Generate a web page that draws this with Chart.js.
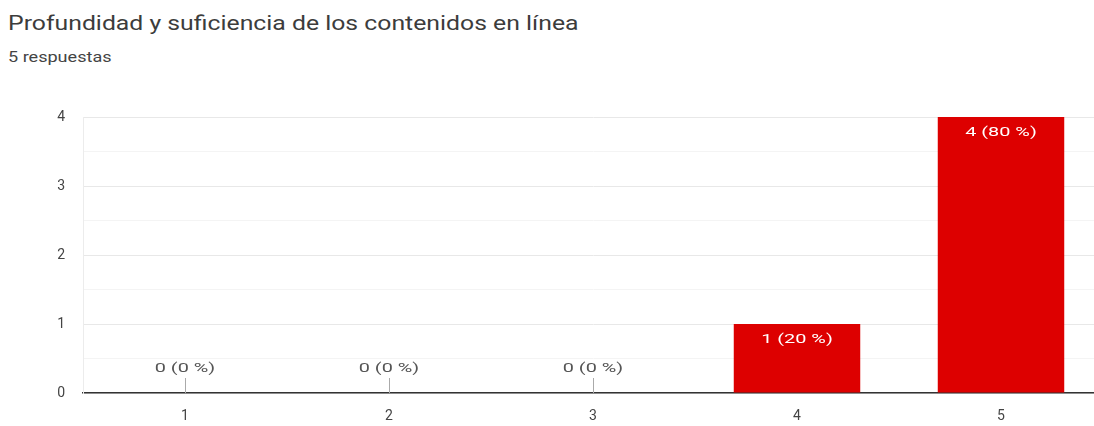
<!DOCTYPE html>
<html>
<head>
<meta charset="utf-8">
<script src="https://cdn.jsdelivr.net/npm/chart.js@4"></script>
<style>
  html, body { margin: 0; padding: 0; background: #fff; overflow: hidden; }
  body { width: 1094px; height: 426px; position: relative; font-family: Roboto, Arial, sans-serif; }
  #title { position: absolute; left: 8px; top: 11px; font-size: 21px; color: #3c3c3c; white-space: nowrap;
           transform: scaleX(1.18); transform-origin: left top; }
  #sub { position: absolute; left: 8px; top: 49px; font-size: 14px; color: #444; white-space: nowrap;
         transform: scaleX(1.29); transform-origin: left top; }
  #wrap { position: absolute; left: 0; top: 0; width: 1110px; height: 426px; }
</style>
</head>
<body>
<div id="title">Profundidad y suficiencia de los contenidos en línea</div>
<div id="sub">5 respuestas</div>
<div id="wrap"><canvas id="chart"></canvas></div>
<script>
// categories and answer counts
const categories = ['1', '2', '3', '4', '5'];
const counts = [0, 0, 0, 1, 4];
const yTicks = [0, 1, 2, 3, 4];
const total = 5;

const barColor = '#dd0000';

// draw text a bit wider, like the source screenshot
function wideText(ctx, text, x, y, sx) {
  ctx.save();
  ctx.translate(x, y);
  ctx.scale(sx, 1);
  ctx.fillText(text, 0, 0);
  ctx.restore();
}

// value labels "n (p %)" drawn on / above the bars
const valueLabels = {
  id: 'valueLabels',
  afterDatasetsDraw(chart) {
    const ctx = chart.ctx;
    const meta = chart.getDatasetMeta(0);
    const zero = chart.scales.y.getPixelForValue(0);
    ctx.save();
    ctx.font = '13px Roboto, Arial, sans-serif';
    ctx.textAlign = 'center';
    ctx.textBaseline = 'middle';
    meta.data.forEach((bar, i) => {
      const v = counts[i];
      const text = `${v} (${Math.round(v / total * 100)} %)`;
      if (v > 0) {
        ctx.fillStyle = '#fff';
        wideText(ctx, text, bar.x, bar.y + 16, 1.53);
      } else {
        ctx.fillStyle = '#555';
        wideText(ctx, text, bar.x, zero - 24, 1.53);
        ctx.strokeStyle = '#aaa';
        ctx.lineWidth = 1;
        ctx.beginPath();
        ctx.moveTo(Math.round(bar.x) + 0.5, zero - 15);
        ctx.lineTo(Math.round(bar.x) + 0.5, zero);
        ctx.stroke();
      }
    });
    ctx.restore();
  }
};

new Chart(document.getElementById('chart'), {
  type: 'bar',
  data: {
    labels: categories,
    datasets: [{
      data: counts,
      backgroundColor: barColor,
      barPercentage: 0.62,
      categoryPercentage: 1
    }]
  },
  options: {
    responsive: true,
    maintainAspectRatio: false,
    animation: false,
    layout: { padding: { top: 117, right: 7, left: 0, bottom: 0 } },
    plugins: { legend: { display: false }, tooltip: { enabled: false } },
    scales: {
      x: {
        grid: { display: false, drawTicks: false },
        border: { color: '#333', width: 1.5 },
        ticks: { color: '#444', font: { size: 14, family: 'Roboto, Arial, sans-serif' }, padding: 15 },
        afterFit(scale) { scale.height = 33; }
      },
      y: {
        min: 0,
        max: yTicks[yTicks.length - 1],
        afterBuildTicks(scale) {
          const t = [];
          yTicks.forEach((v, i) => {
            t.push({ value: v });
            if (i < yTicks.length - 1) t.push({ value: v + 0.5 });
          });
          scale.ticks = t;
        },
        grid: {
          drawTicks: false,
          color: c => Number.isInteger(c.tick.value) ? '#e8e8e8' : '#f4f4f4'
        },
        border: { color: '#ececec' },
        ticks: {
          color: '#444',
          padding: 18,
          font: { size: 14, family: 'Roboto, Arial, sans-serif' },
          callback: v => Number.isInteger(v) ? v : ''
        },
        afterFit(scale) { scale.width = 83; }
      }
    }
  },
  plugins: [valueLabels]
});
</script>
</body>
</html>
